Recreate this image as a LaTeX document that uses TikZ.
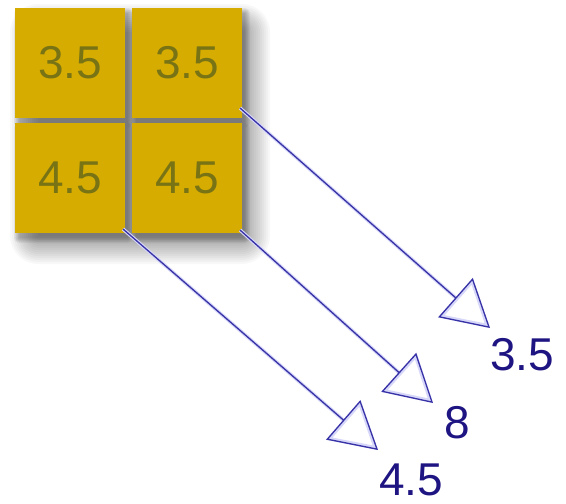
\documentclass[tikz,border=0pt]{standalone}
\usepackage{fontspec}
\setmainfont{Liberation Sans}
\usetikzlibrary{arrows.meta}
\definecolor{boxgold}{RGB}{214,172,0}
\definecolor{boxtext}{RGB}{120,115,20}
\definecolor{arrowblue}{RGB}{55,50,165}
\definecolor{labelblue}{RGB}{30,20,130}
\definecolor{glowblue}{RGB}{215,215,250}
\tikzset{
  cell/.style={draw=none, fill=boxgold, minimum width=110pt, minimum height=110pt, inner sep=0pt,
    text=boxtext, font=\fontsize{46}{46}\selectfont},
  arr/.style={draw=arrowblue, line width=1.3pt,
    -{Triangle[open, length=46pt, width=52pt, line width=1.3pt]}},
  glow/.style={draw=glowblue, line width=3.5pt,
    -{Triangle[open, length=46pt, width=52pt, line width=3.5pt]}},
  lbl/.style={text=labelblue, font=\fontsize{46}{46}\selectfont, inner sep=0pt},
  softshade/.style={fill=black, fill opacity=0.028, draw=none}
}
\begin{document}
\begin{tikzpicture}[x=1pt,y=-1pt]
\useasboundingbox (0,0) rectangle (566,504);
\fill[white] (0,0) rectangle (566,504);
% group shadow
\foreach \r in {0,2,...,28}{
  \fill[softshade, rounded corners=\r pt] (38-\r,32-\r) rectangle (242+\r,236+\r);
}
% per-cell small shadows
\foreach \cx/\cy in {70/63,187/63,70/178,187/178}{
  \foreach \r in {0,1,...,5}{
    \fill[black, fill opacity=0.045, rounded corners=\r pt] (\cx-55+4-\r,\cy-55+5-\r) rectangle (\cx+55+3+\r,\cy+55+5+\r);
  }
}
% cells
\node[cell] (c11) at (70,63) {3.5};
\node[cell] (c12) at (187,63) {3.5};
\node[cell] (c21) at (70,178) {4.5};
\node[cell] (c22) at (187,178) {4.5};
% end coordinates
\coordinate (e1) at (490,328);
\coordinate (e2) at (433,403);
\coordinate (e3) at (378,450);
\coordinate (s1) at (240,108);
\coordinate (s2) at (240,230);
\coordinate (s3) at (123,229);
% glows
\draw[glow] (s1) -- (e1);
\draw[glow] (s2) -- (e2);
\draw[glow] (s3) -- (e3);
% arrows
\draw[arr] (s1) -- (e1);
\draw[arr] (s2) -- (e2);
\draw[arr] (s3) -- (e3);
% labels
\node[lbl] (l1) at (522,355) {3.5};
\node[lbl] (l2) at (457,423) {8};
\node[lbl] (l3) at (411,480) {4.5};
\end{tikzpicture}
\end{document}
